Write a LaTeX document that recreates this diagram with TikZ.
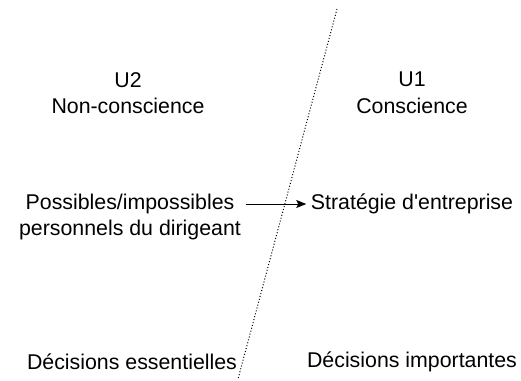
\documentclass[tikz,border=0pt]{standalone}
\usepackage{fontspec}
\setmainfont{Liberation Sans}
\usetikzlibrary{arrows.meta, positioning}

\begin{document}
\begin{tikzpicture}[>={Stealth[length=7.5pt, width=6pt, inset=1.5pt]}, x=0.75pt, y=-0.75pt, font=\fontsize{16}{20}\selectfont]
        \useasboundingbox (0,0) rectangle (521,380);

        \coordinate (top) at (337,9);
        \coordinate (bottom) at (238,379);
        \draw[line width=0.75pt, dash pattern=on 0.75pt off 1.5pt] (top) -- (bottom);

        \node (u2) at (128,93) [align=center] {U2\\Non-conscience};
        \node (u1) at (412,93) [align=center] {U1\\Conscience};
        \node (poss) at (130,217) [align=center] {Possibles/impossibles\\personnels du dirigeant};
        \node (strat) at (412,204) {Stratégie d\textquotesingle entreprise};
        \node (dess) at (132,362) {Décisions essentielles};
        \node (dimp) at (412,362) {Décisions importantes};

        \draw[->, line width=0.75pt] (poss.east |- strat.west) -- (strat.west);
    \end{tikzpicture}
\end{document}
